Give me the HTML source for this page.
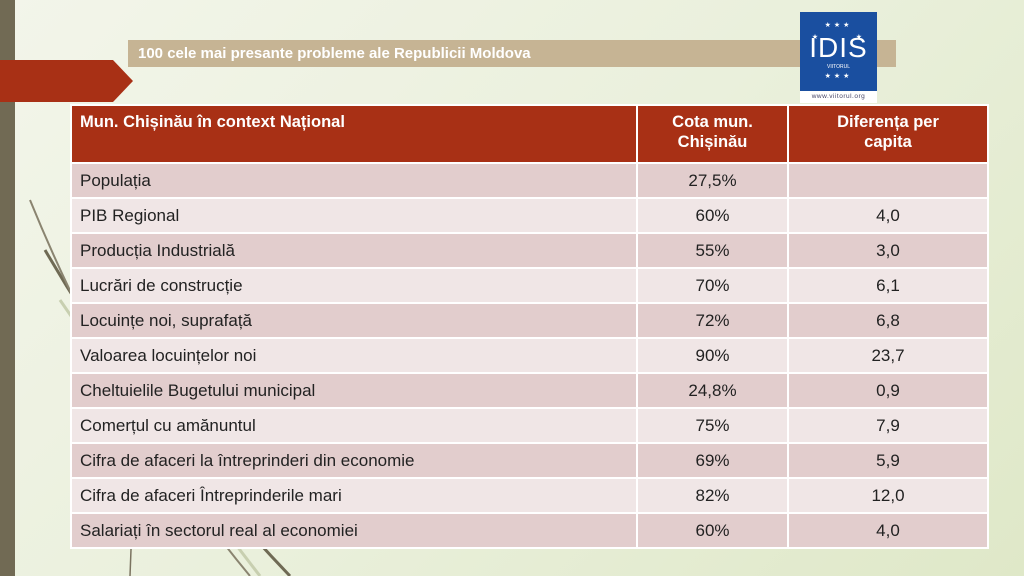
<!DOCTYPE html>
<html><head><meta charset="utf-8"><style>
body{margin:0;width:1024px;height:576px;overflow:hidden;position:relative;background:linear-gradient(135deg,#f3f5ea 0%,#eaf0dc 50%,#dfe8c8 100%);font-family:"Liberation Sans",sans-serif}
.bar{position:absolute;left:0;top:0;width:15px;height:576px;background:#716a54}
.banner{position:absolute;left:128px;top:40px;width:768px;height:27px;background:#c6b494;color:#fff;font-weight:bold;font-size:15px;line-height:27px;padding-left:10px;box-sizing:border-box}
.arrow{position:absolute;left:0;top:60px;width:133px;height:42px;background:#a83015;clip-path:polygon(0 0,113px 0,133px 21px,113px 42px,0 42px)}
.logo{position:absolute;left:800px;top:12px;width:77px;height:79px;background:#1a4fa0;color:#fff;text-align:center}
.logo .t{font-size:28px;position:absolute;left:0;right:0;top:20px;letter-spacing:1px}
.logo .s{font-size:5px;position:absolute;left:0;right:0;top:52px}
.url{position:absolute;left:800px;top:91px;width:77px;height:12px;background:#fff;font-size:6.5px;color:#446;text-align:center;line-height:12px;letter-spacing:.5px}
table{position:absolute;left:70px;top:104px;width:917px;border-collapse:collapse;font-size:17px;color:#222;table-layout:fixed}
td{border:2px solid #fff;height:33px;padding:0 8px}
tr.h td{background:#a83015;color:#fff;font-weight:bold;font-size:16.5px;height:50px;vertical-align:top;padding-top:6px;line-height:20px}
tr.a td{background:#e2cdcd}
tr.b td{background:#f0e6e6}
td.c{text-align:center}
</style></head><body>
<div class="bar"></div>
<svg style="position:absolute;left:0;top:0" width="300" height="576"><path d="M162 110 Q140 300 130 576" stroke="#7a7360" stroke-width="1.5" fill="none"/><path d="M45 250 Q150 430 290 576" stroke="#6f6a54" stroke-width="3" fill="none"/><path d="M60 300 Q170 460 260 576" stroke="#c8cfb0" stroke-width="3" fill="none"/><path d="M30 200 Q120 420 250 576" stroke="#8a8470" stroke-width="2" fill="none"/></svg>
<div class="banner">100 cele mai presante probleme ale Republicii Moldova</div>
<div class="arrow"></div>
<div class="logo"><div style="position:absolute;left:4px;right:4px;top:8px;font-size:7px;line-height:12px;letter-spacing:3px">★★★<br>★ &nbsp; &nbsp; &nbsp; ★</div><div class="t">IDIS</div><div class="s">VIITORUL</div><div style="position:absolute;left:4px;right:4px;top:60px;font-size:7px;letter-spacing:3px">★★★</div></div>
<div class="url">www.viitorul.org</div>
<table>
<colgroup><col style="width:566px"><col style="width:151px"><col style="width:200px"></colgroup>
<tr class="h"><td>Mun. Chișinău în context Național</td><td class="c">Cota mun. Chișinău</td><td class="c" style="padding:6px 40px 0">Diferența per capita</td></tr>
<tr class="a"><td>Populația</td><td class="c">27,5%</td><td class="c"></td></tr>
<tr class="b"><td>PIB Regional</td><td class="c">60%</td><td class="c">4,0</td></tr>
<tr class="a"><td>Producția Industrială</td><td class="c">55%</td><td class="c">3,0</td></tr>
<tr class="b"><td>Lucrări de construcție</td><td class="c">70%</td><td class="c">6,1</td></tr>
<tr class="a"><td>Locuințe noi, suprafață</td><td class="c">72%</td><td class="c">6,8</td></tr>
<tr class="b"><td>Valoarea locuințelor noi</td><td class="c">90%</td><td class="c">23,7</td></tr>
<tr class="a"><td>Cheltuielile Bugetului municipal</td><td class="c">24,8%</td><td class="c">0,9</td></tr>
<tr class="b"><td>Comerțul cu amănuntul</td><td class="c">75%</td><td class="c">7,9</td></tr>
<tr class="a"><td>Cifra de afaceri la întreprinderi din economie</td><td class="c">69%</td><td class="c">5,9</td></tr>
<tr class="b"><td>Cifra de afaceri Întreprinderile mari</td><td class="c">82%</td><td class="c">12,0</td></tr>
<tr class="a"><td>Salariați în sectorul real al economiei</td><td class="c">60%</td><td class="c">4,0</td></tr>
</table>
</body></html>
